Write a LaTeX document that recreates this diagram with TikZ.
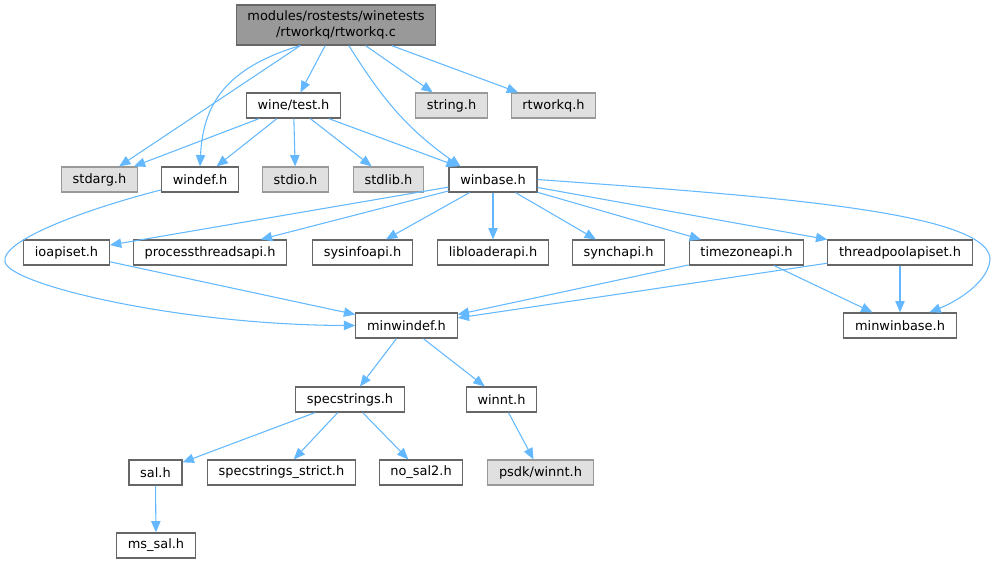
\documentclass[tikz,border=0pt]{standalone}
\usepackage{fontspec}
\setmainfont{DejaVu Sans}
\usepackage{tikz}
\usetikzlibrary{arrows.meta, positioning}
\definecolor{EdgeBlue}{HTML}{63B8FF}
\definecolor{NodeGrey}{HTML}{666666}
\definecolor{ExtGrey}{HTML}{999999}
\definecolor{ExtFill}{HTML}{E0E0E0}
\definecolor{RootFill}{HTML}{999999}

\begin{document}
\begin{tikzpicture}[
        x=0.75pt, y=0.75pt,
        box/.style={rectangle, draw=NodeGrey, fill=white, line width=0.9pt, inner xsep=8.4pt, inner ysep=0pt, minimum height=18.75pt, font=\fontsize{9.7}{12}\selectfont},
        extbox/.style={box, draw=ExtGrey, fill=ExtFill},
        rootbox/.style={box, fill=RootFill, align=center, minimum height=30pt},
        arrow/.style={-{Triangle[length=8.5pt, width=7pt]}, line width=0.8pt, EdgeBlue}
    ]
        \useasboundingbox (0,0) rectangle (996,-564);

        % Top file and its direct includes
        \node[rootbox] (root) at (336,-25) {modules/rostests/winetests\\/rtworkq/rtworkq.c};
        \node[box] (winetest) at (293.5,-105.5) {wine/test.h};
        \node[extbox] (string) at (451.5,-105.5) {string.h};
        \node[extbox] (rtworkqh) at (553.5,-105.5) {rtworkq.h};

        % Second row
        \node[extbox] (stdarg) at (99.5,-179.5) {stdarg.h};
        \node[box] (windef) at (200,-179.5) {windef.h};
        \node[extbox] (stdio) at (295.5,-179.5) {stdio.h};
        \node[extbox] (stdlib) at (388.5,-179.5) {stdlib.h};
        \node[box] (winbase) at (493,-179.5) {winbase.h};

        % Headers pulled in by winbase.h
        \node[box] (ioapiset) at (66.5,-252.5) {ioapiset.h};
        \node[box] (procthr) at (210,-252.5) {processthreadsapi.h};
        \node[box] (sysinfo) at (362.5,-252.5) {sysinfoapi.h};
        \node[box] (libload) at (493,-252.5) {libloaderapi.h};
        \node[box] (synch) at (618.5,-252.5) {synchapi.h};
        \node[box] (timezone) at (746.5,-252.5) {timezoneapi.h};
        \node[box] (threadpool) at (900,-252.5) {threadpoolapiset.h};

        \node[box] (minwindef) at (406.5,-325.5) {minwindef.h};
        \node[box] (minwinbase) at (900,-325.5) {minwinbase.h};

        % Lower part
        \node[box] (specstr) at (350,-399.5) {specstrings.h};
        \node[box] (winnt) at (501.5,-399.5) {winnt.h};
        \node[box] (sal) at (155.5,-472.5) {sal.h};
        \node[box] (strict) at (281.5,-472.5) {specstrings\_strict.h};
        \node[box] (nosal) at (421,-472.5) {no\_sal2.h};
        \node[extbox] (psdk) at (540.5,-472.5) {psdk/winnt.h};
        \node[box] (mssal) at (156,-545.5) {ms\_sal.h};

        % Edges from rtworkq.c
        \draw[arrow] (root.-150) -- (stdarg);
        \draw[arrow] (root.-150) .. controls (225,-68) and (203,-105) .. (windef.north);
        \draw[arrow] (root) -- (winetest);
        \draw[arrow] (root.-58) to[out=-58, in=145] (winbase.158);
        \draw[arrow] (root) -- (string);
        \draw[arrow] (root) -- (rtworkqh);

        % Edges from wine/test.h
        \draw[arrow] (winetest) -- (stdarg);
        \draw[arrow] (winetest) -- (windef);
        \draw[arrow] (winetest) -- (stdio);
        \draw[arrow] (winetest) -- (stdlib);
        \draw[arrow] (winetest) -- (winbase);

        % windef.h goes round the left side
        \draw[arrow] (windef.195) .. controls (90,-208) and (0,-240) .. (5,-262)
            .. controls (10,-285) and (180,-325) .. (minwindef.west);

        % Edges from winbase.h
        \draw[arrow] (winbase) -- (ioapiset);
        \draw[arrow] (winbase) -- (procthr);
        \draw[arrow] (winbase) -- (sysinfo);
        \draw[arrow] (winbase) -- (libload);
        \draw[arrow] (winbase) -- (synch);
        \draw[arrow] (winbase) -- (timezone);
        \draw[arrow] (winbase) -- (threadpool);
        \draw[arrow] (winbase.east) .. controls (750,-195) and (985,-210) .. (990,-258)
            .. controls (990,-280) and (960,-300) .. (minwinbase.24);

        \draw[arrow] (ioapiset) -- (minwindef);
        \draw[arrow] (timezone) -- (minwindef);
        \draw[arrow] (timezone) -- (minwinbase);
        \draw[arrow] (threadpool) -- (minwindef);
        \draw[arrow] (threadpool) -- (minwinbase);

        % minwindef.h and below
        \draw[arrow] (minwindef) -- (specstr);
        \draw[arrow] (minwindef) -- (winnt);
        \draw[arrow] (specstr) -- (sal);
        \draw[arrow] (specstr) -- (strict);
        \draw[arrow] (specstr) -- (nosal);
        \draw[arrow] (winnt) -- (psdk);
        \draw[arrow] (sal) -- (mssal);
    \end{tikzpicture}
\end{document}
